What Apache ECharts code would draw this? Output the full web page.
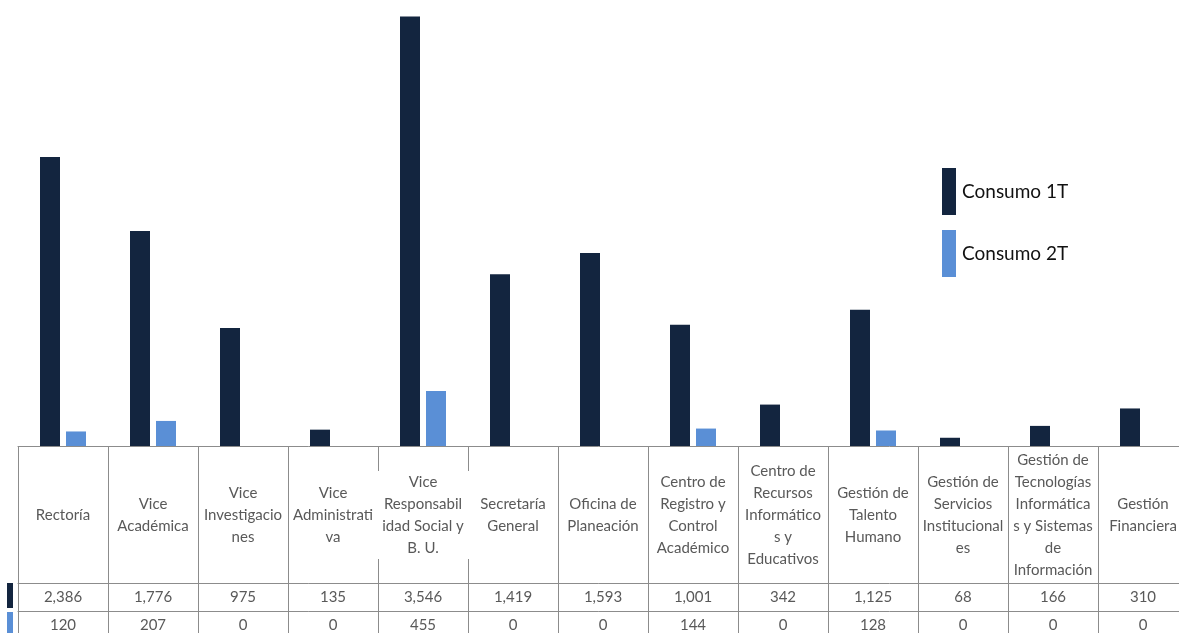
<!DOCTYPE html>
<html>
<head>
<meta charset="utf-8">
<script src="https://cdn.jsdelivr.net/npm/echarts@6/dist/echarts.min.js"></script>
<style>
  html, body { margin: 0; padding: 0; background: #fff; }
  #chart { width: 1179px; height: 633px; }
</style>
</head>
<body>
<div id="chart"></div>
<script>
// Dependencias (rótulos con los saltos de línea de la tabla)
const categories = [
  'Rectoría',
  'Vice\nAcadémica',
  'Vice\nInvestigacio\nnes',
  'Vice\nAdministrati\nva',
  'Vice\nResponsabil\nidad Social y\nB. U.',
  'Secretaría\nGeneral',
  'Oficina de\nPlaneación',
  'Centro de\nRegistro y\nControl\nAcadémico',
  'Centro de\nRecursos\nInformático\ns y\nEducativos',
  'Gestión de\nTalento\nHumano',
  'Gestión de\nServicios\nInstitucional\nes',
  'Gestión de\nTecnologías\nInformática\ns y Sistemas\nde\nInformación',
  'Gestión\nFinanciera'
];

const seriesNames = ['Consumo 1T', 'Consumo 2T'];
const consumo1T = [2386, 1776, 975, 135, 3546, 1419, 1593, 1001, 342, 1125, 68, 166, 310];
const consumo2T = [120, 207, 0, 0, 455, 0, 0, 144, 0, 128, 0, 0, 0];

const colors = ['#13253f', '#5a8fd6'];
const font = 'Lato';
const textGray = '#595959';
const lineGray = '#8c8c8c';

const fmt = v => v.toLocaleString('en-US');

const headerText = {
  verticalAlign: 'middle',
  lineHeight: 22,
  fontFamily: font,
  fontSize: 15,
  color: textGray
};

// el rótulo más ancho desborda su celda y tapa los bordes verticales
const axisData = categories.map(c =>
  c.indexOf('Responsabil') >= 0
    ? { value: c, textStyle: Object.assign({}, headerText, { backgroundColor: '#fff', width: 92, align: 'center' }) }
    : c
);

const chart = echarts.init(document.getElementById('chart'));

// la tabla continúa más allá del borde derecho: 13 columnas de 90 px
chart.setOption({
  animation: false,
  color: colors,
  grid: {
    left: 18, width: 1170, top: 10, height: 436,
    containLabel: false, outerBoundsMode: 'none'
  },
  legend: [
    {
      data: seriesNames,
      orient: 'vertical',
      left: 942,
      top: 168,
      padding: 0,
      icon: 'rect',
      itemWidth: 14,
      itemHeight: 47,
      itemGap: 15,
      textStyle: { fontFamily: font, fontSize: 19, color: '#111', padding: [0, 0, 0, 1] }
    },
    {
      // claves de color de las filas de la tabla
      data: seriesNames,
      orient: 'vertical',
      left: 7,
      top: 583,
      height: 80,
      padding: 0,
      icon: 'rect',
      itemWidth: 6,
      itemHeight: 25,
      itemGap: 4,
      formatter: () => '',
      textStyle: { fontSize: 1 }
    }
  ],
  xAxis: [
    {
      type: 'category',
      data: axisData,
      position: 'bottom',
      offset: 0,
      axisLine: { show: true, lineStyle: { color: lineGray, width: 1 } },
      axisTick: { show: true, length: 192, lineStyle: { color: lineGray, width: 1 } },
      axisLabel: Object.assign({ interval: 0, hideOverlap: false, margin: 69 }, headerText)
    },
    {
      type: 'category',
      data: categories,
      position: 'bottom',
      offset: 137,
      axisLine: { show: true, lineStyle: { color: lineGray, width: 1 } },
      axisTick: { show: false },
      axisLabel: {
        interval: 0,
        margin: 14,
        verticalAlign: 'middle',
        fontFamily: font,
        fontSize: 15,
        color: textGray,
        formatter: (v, i) => fmt(consumo1T[i])
      }
    },
    {
      type: 'category',
      data: categories,
      position: 'bottom',
      offset: 165,
      axisLine: { show: true, lineStyle: { color: lineGray, width: 1 } },
      axisTick: { show: false },
      axisLabel: {
        interval: 0,
        margin: 14,
        verticalAlign: 'middle',
        fontFamily: font,
        fontSize: 15,
        color: textGray,
        formatter: (v, i) => fmt(consumo2T[i])
      }
    }
  ],
  yAxis: {
    type: 'value',
    min: 0,
    max: 3600,
    show: false,
    splitLine: { show: false }
  },
  series: [
    {
      name: seriesNames[0],
      type: 'bar',
      xAxisIndex: 0,
      data: consumo1T,
      barWidth: 20,
      barGap: '30%'
    },
    {
      name: seriesNames[1],
      type: 'bar',
      xAxisIndex: 0,
      data: consumo2T,
      barWidth: 20,
      barGap: '30%'
    }
  ]
});
</script>
</body>
</html>
